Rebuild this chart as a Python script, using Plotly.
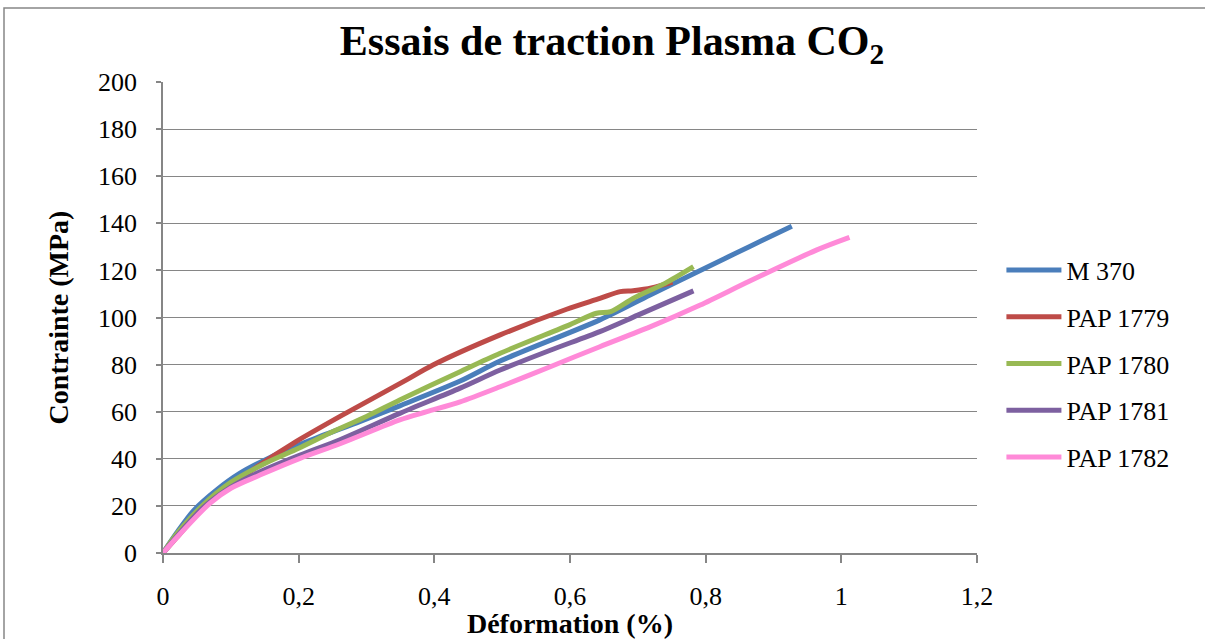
import plotly.graph_objects as go

# ---- data ----
names = ["M 370", "PAP 1779", "PAP 1780", "PAP 1781", "PAP 1782"]
colors = ["#4A7EBB", "#BE4B48", "#98B954", "#7D60A0", "#FF8AD8"]

m370_x = [0, 0.02, 0.045, 0.08, 0.113, 0.158, 0.217, 0.29, 0.349, 0.438, 0.497, 0.644, 0.718, 0.792, 0.865, 0.927]
m370_y = [0, 8.5, 18, 27, 33.8, 40.6, 47.8, 55.8, 62.5, 73, 81.5, 99, 109.6, 120, 130.2, 138.8]

p1779_x = [0, 0.02, 0.059, 0.1, 0.143, 0.192, 0.261, 0.359, 0.398, 0.497, 0.595, 0.644, 0.674, 0.693, 0.72, 0.751]
p1779_y = [0, 6.5, 19, 28.5, 37.5, 46.6, 58, 73.5, 79.8, 92.6, 103.5, 108.1, 111, 111.4, 112.5, 115]

p1780_x = [0, 0.02, 0.059, 0.1, 0.15, 0.2, 0.25, 0.3, 0.349, 0.438, 0.497, 0.6, 0.639, 0.66, 0.693, 0.74, 0.782]
p1780_y = [0, 8, 20.4, 30, 38, 44.5, 51.5, 58, 65, 77, 84.8, 97, 101.8, 102.5, 108.1, 114.5, 121.6]

p1781_x = [0, 0.02, 0.06, 0.1, 0.143, 0.202, 0.26, 0.349, 0.438, 0.497, 0.57, 0.644, 0.7, 0.782]
p1781_y = [0, 7, 19.5, 28, 34.5, 41.6, 48, 59.3, 70, 77.7, 86, 94, 101, 111.3]

p1782_x = [0, 0.02, 0.069, 0.1, 0.143, 0.202, 0.261, 0.349, 0.389, 0.438, 0.497, 0.57, 0.644, 0.718, 0.792, 0.865, 0.964, 1.012]
p1782_y = [0, 6.5, 21.1, 27.5, 33.1, 40.2, 46.4, 56.5, 60, 64.2, 70.6, 79, 87.6, 96, 105.3, 115.5, 128.7, 134]

series_x = [m370_x, p1779_x, p1780_x, p1781_x, p1782_x]
series_y = [m370_y, p1779_y, p1780_y, p1781_y, p1782_y]

x_ticks = [0, 0.2, 0.4, 0.6, 0.8, 1, 1.2]
x_tick_labels = ["0", "0,2", "0,4", "0,6", "0,8", "1", "1,2"]
y_ticks = list(range(0, 201, 20))

FONT = "Liberation Serif, Times New Roman, serif"
GRID = "#868686"

fig = go.Figure()
for i, (n, c, xs, ys) in enumerate(zip(names, colors, series_x, series_y)):
    fig.add_trace(go.Scatter(
        x=xs, y=ys, mode="lines", name=n, legendgroup=f"g{i}",
        line=dict(color=c, width=5, shape="spline", smoothing=0.8),
    ))

fig.update_layout(
    width=1205, height=639,
    margin=dict(l=163, r=228, t=82, b=86),
    paper_bgcolor="white", plot_bgcolor="white",
    font=dict(family=FONT, size=26, color="black"),
    title=dict(
        text="<b>Essais de traction Plasma CO<sub>2</sub></b>",
        font=dict(family=FONT, size=42, color="black"),
        x=(612 - 163) / 814, xref="paper", xanchor="center",
        y=1 - 40 / 639, yref="container", yanchor="middle",
    ),
    xaxis=dict(
        range=[0, 1.2], tickvals=x_ticks, ticktext=x_tick_labels,
        showgrid=False, zeroline=False, automargin=False,
        showline=True, linecolor=GRID, linewidth=1.5,
        ticks="outside", ticklen=8, tickcolor=GRID, tickwidth=1.5,
        ticklabelstandoff=11,
        tickfont=dict(family=FONT, size=26),
        title=dict(text="<b>Déformation (%)</b>", font=dict(family=FONT, size=28), standoff=5),
    ),
    yaxis=dict(
        range=[0, 200], tickvals=y_ticks,
        showgrid=True, gridcolor=GRID, gridwidth=1.3,
        zeroline=False, automargin=False,
        showline=True, linecolor=GRID, linewidth=1.5,
        ticks="outside", ticklen=5, tickcolor=GRID, tickwidth=1.5,
        ticklabelstandoff=14,
        tickfont=dict(family=FONT, size=26),
        title=dict(text="<b>Contrainte (MPa)</b>", font=dict(family=FONT, size=28), standoff=21),
    ),
    legend=dict(
        x=1.03, xanchor="left", y=(553 - 364) / 471, yanchor="middle",
        font=dict(family=FONT, size=26),
        tracegroupgap=10, itemwidth=55,
        bgcolor="rgba(0,0,0,0)",
    ),
    showlegend=True,
)

# outer chart border (only left and top edges are visible in the reference)
fig.add_shape(type="rect", xref="paper", yref="paper",
              x0=(4 - 163) / 814, x1=(1300 - 163) / 814,
              y0=(553 - 720) / 471, y1=(553 - 8) / 471,
              line=dict(color=GRID, width=1.5), fillcolor="rgba(0,0,0,0)", layer="below")

fig.write_html("out.html", config={"displayModeBar": False},
               post_script="document.body.style.margin='0';document.body.style.overflow='hidden';")
